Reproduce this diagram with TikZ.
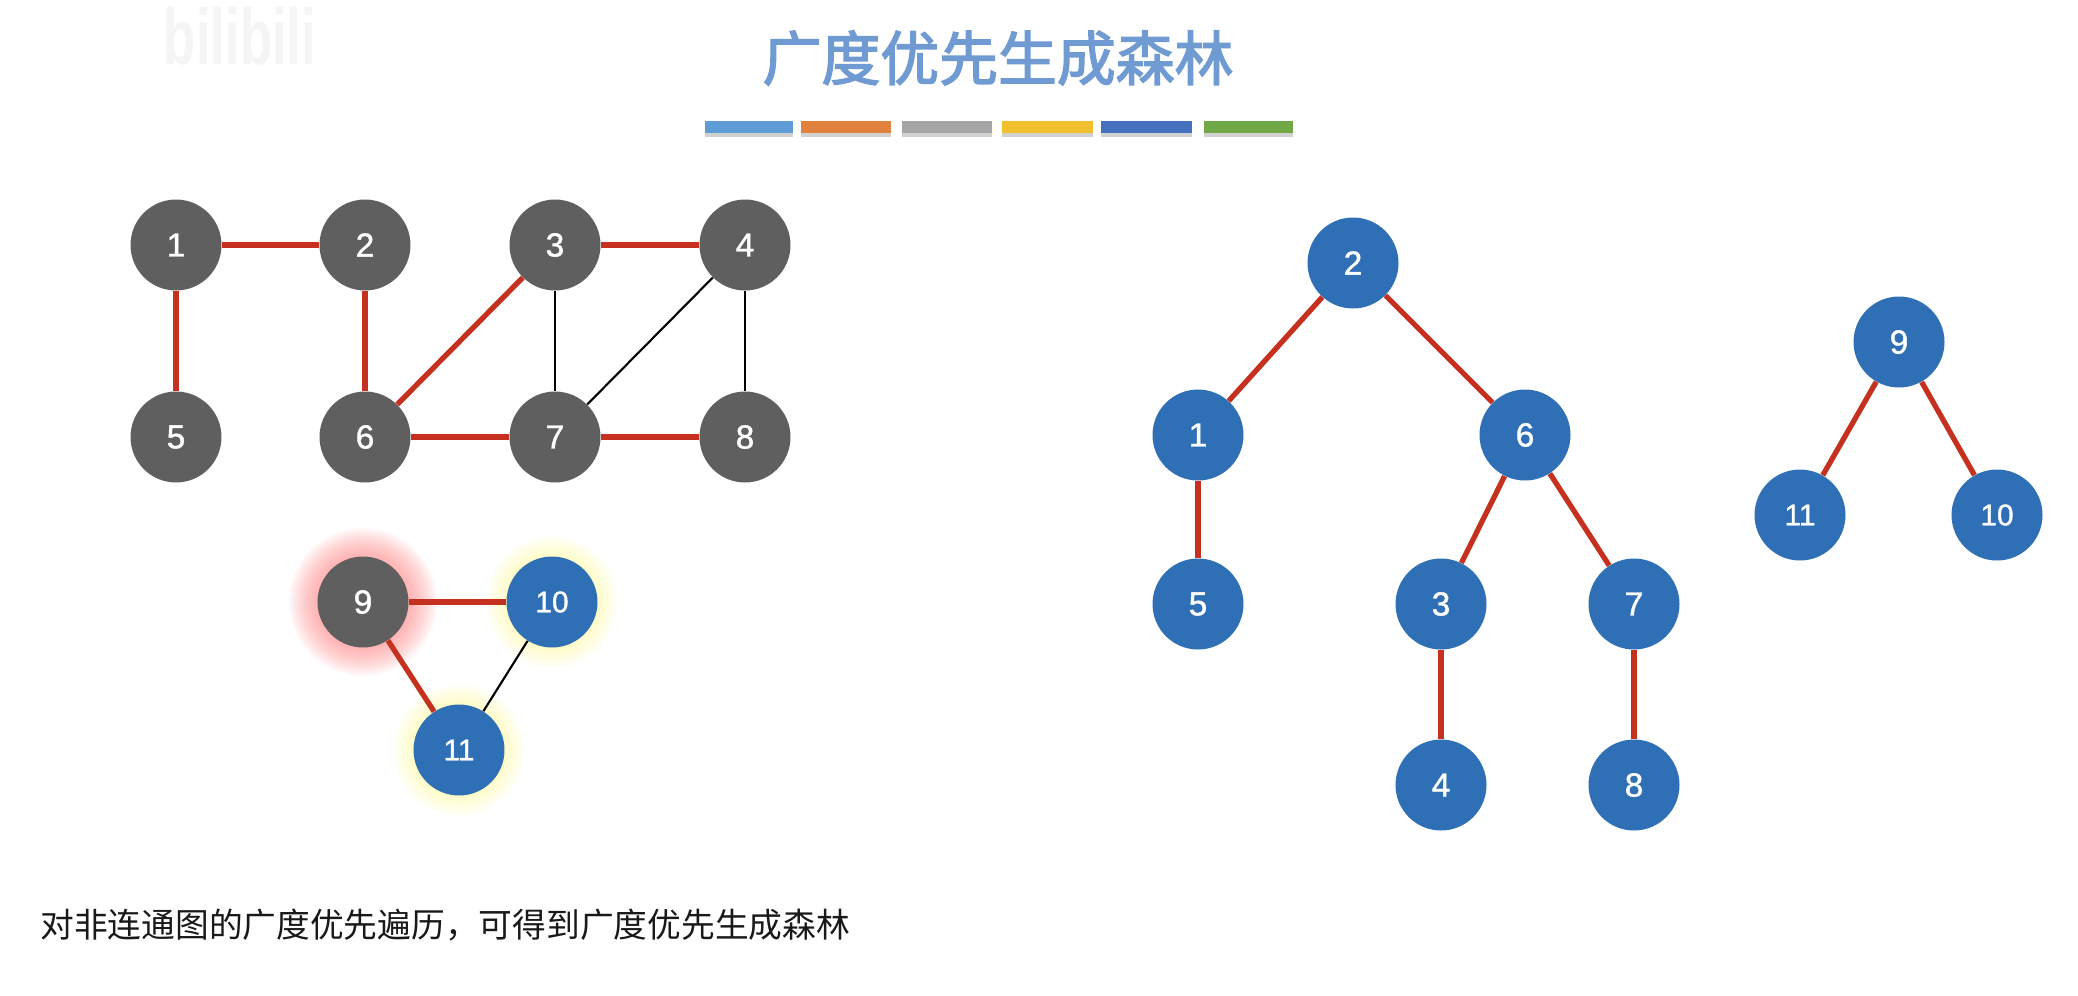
\documentclass[tikz,border=0pt]{standalone}
\usepackage{fontspec}
\setmainfont{Liberation Sans}
\newfontfamily\cjk{Noto Sans CJK SC}
\newfontfamily\cjktitle[FakeBold=2.5]{Noto Sans CJK SC}
\newfontfamily\numfont[FakeBold=1.2]{Liberation Sans}
\usetikzlibrary{backgrounds}
\definecolor{vertexgray}{HTML}{5F5F5F}
\definecolor{vertexblue}{HTML}{2E6FB5}
\definecolor{edgered}{HTML}{C5301F}
\definecolor{titleblue}{HTML}{6F9BD2}
\definecolor{barblue}{HTML}{5F9BD5}
\definecolor{barorange}{HTML}{E0823E}
\definecolor{bargray}{HTML}{A5A5A5}
\definecolor{baryellow}{HTML}{F0C02F}
\definecolor{bardark}{HTML}{4470BE}
\definecolor{bargreen}{HTML}{70A845}
\tikzset{
  vertex/.style={shape=circle,minimum size=1.82cm,inner sep=0pt,text=white,font=\numfont\fontsize{19}{19}\selectfont},
  grayvertex/.style={vertex,fill=vertexgray},
  bluevertex/.style={vertex,fill=vertexblue},
  smallnum/.style={font=\numfont\fontsize{17}{17}\selectfont},
  treeedge/.style={edgered,line width=3pt},
  plainedge/.style={black,line width=1.2pt}
}
\begin{document}
\begin{tikzpicture}
[x=0.02cm,y=-0.02cm]
\useasboundingbox (0,0) rectangle (2078,995);
% watermark
\node[text=black!4,font=\bfseries\fontsize{30}{30}\selectfont,yscale=1.5] (mark) at (240,36) {bilibili};
% title
\node[text=titleblue,font=\cjktitle\fontsize{33.5}{34}\selectfont] (title) at (998,58) {广度优先生成森林};
\foreach \xa/\xb/\barcolor in {705/793/barblue,801/891/barorange,902/992/bargray,1002/1093/baryellow,1101/1192/bardark,1204/1293/bargreen} {
  \fill[black!18] (\xa,133) rectangle (\xb,137);
  \fill[\barcolor] (\xa,121) rectangle (\xb,133);}
% graph
\node[grayvertex] (a1) at (176,245) {1};
\node[grayvertex] (a2) at (365,245) {2};
\node[grayvertex] (a3) at (555,245) {3};
\node[grayvertex] (a4) at (745,245) {4};
\node[grayvertex] (a5) at (176,437) {5};
\node[grayvertex] (a6) at (365,437) {6};
\node[grayvertex] (a7) at (555,437) {7};
\node[grayvertex] (a8) at (745,437) {8};
\node[grayvertex] (a9) at (363,602) {9};
\node[bluevertex,smallnum] (a10) at (552,602) {10};
\node[bluevertex,smallnum] (a11) at (459,750) {11};
\draw[treeedge] (a1) -- (a2);
\draw[treeedge] (a1) -- (a5);
\draw[treeedge] (a2) -- (a6);
\draw[treeedge] (a3) -- (a4);
\draw[treeedge] (a3) -- (a6);
\draw[treeedge] (a6) -- (a7);
\draw[treeedge] (a7) -- (a8);
\draw[plainedge] (a3) -- (a7);
\draw[plainedge] (a4) -- (a7);
\draw[plainedge] (a4) -- (a8);
\draw[treeedge] (a9) -- (a10);
\draw[treeedge] (a9) -- (a11);
\draw[plainedge] (a10) -- (a11);
\begin{pgfonlayer}{background}
\foreach \glowr in {46,48,...,74}
  \fill[red!55,opacity=0.05] (a9) circle (\glowr);
\foreach \glowr in {46,48,...,66} {
  \fill[yellow!60,opacity=0.04] (a10) circle (\glowr);
  \fill[yellow!60,opacity=0.04] (a11) circle (\glowr);}
\end{pgfonlayer}
% forest
\node[bluevertex] (b2) at (1353,263) {2};
\node[bluevertex] (b1) at (1198,435) {1};
\node[bluevertex] (b6) at (1525,435) {6};
\node[bluevertex] (b5) at (1198,604) {5};
\node[bluevertex] (b3) at (1441,604) {3};
\node[bluevertex] (b7) at (1634,604) {7};
\node[bluevertex] (b4) at (1441,785) {4};
\node[bluevertex] (b8) at (1634,785) {8};
\node[bluevertex] (b9) at (1899,342) {9};
\node[bluevertex,smallnum] (b11) at (1800,515) {11};
\node[bluevertex,smallnum] (b10) at (1997,515) {10};
\draw[treeedge] (b2) -- (b1);
\draw[treeedge] (b2) -- (b6);
\draw[treeedge] (b1) -- (b5);
\draw[treeedge] (b6) -- (b3);
\draw[treeedge] (b6) -- (b7);
\draw[treeedge] (b3) -- (b4);
\draw[treeedge] (b7) -- (b8);
\draw[treeedge] (b9) -- (b11);
\draw[treeedge] (b9) -- (b10);
% caption
\node[anchor=west,inner sep=0pt,text=black!90,font=\cjk\fontsize{19.2}{20}\selectfont] (note) at (40,925) {对非连通图的广度优先遍历^^^^ff0c可得到广度优先生成森林};
\end{tikzpicture}
\end{document}
